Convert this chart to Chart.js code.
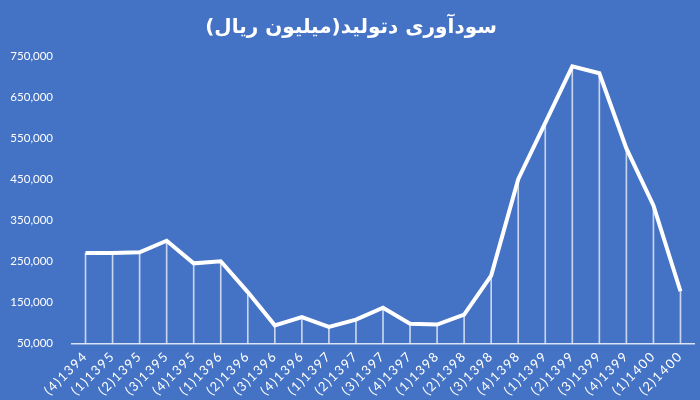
<!DOCTYPE html>
<html>
<head>
<meta charset="utf-8">
<script src="https://cdn.jsdelivr.net/npm/chart.js@4.4.0/dist/chart.umd.min.js"></script>
<style>
  html, body { margin: 0; padding: 0; background: #4472C4; }
  #wrap { width: 700px; height: 400px; }
</style>
</head>
<body>
<div id="wrap"><canvas id="chart"></canvas></div>
<script>
// data
const quarters = [
    '(4)1394',
    '(1)1395', '(2)1395', '(3)1395', '(4)1395',
    '(1)1396', '(2)1396', '(3)1396', '(4)1396',
    '(1)1397', '(2)1397', '(3)1397', '(4)1397',
    '(1)1398', '(2)1398', '(3)1398', '(4)1398',
    '(1)1399', '(2)1399', '(3)1399', '(4)1399',
    '(1)1400', '(2)1400'
]
const profit = [
    270000,
    270000, 272000, 300000, 245000,
    250000, 175000, 94000, 114000,
    90000, 108000, 137000, 98000,
    96000, 120000, 215000, 450000,
    587000, 725000, 708000, 525000,
    386000, 177000
]
const yTicks = [50000, 150000, 250000, 350000, 450000, 550000, 650000, 750000]
const chartTitle = 'سودآوری دتولید(میلیون ریال)'

const white = '#ffffff'
const ctx = document.getElementById('chart').getContext('2d')

// the category labels in the picture are spread out a bit
const spacedLabels = {
    id: 'spacedLabels',
    afterLayout: function (chart) {
        const scale = chart.scales.x
        if (scale._spaced) return
        const orig = scale.drawLabels
        scale.drawLabels = function (area) {
            chart.ctx.save()
            chart.ctx.letterSpacing = '1.5px'
            orig.call(this, area)
            chart.ctx.restore()
        }
        scale._spaced = true
    }
}

new Chart(ctx, {
    data: {
        labels: quarters,
        datasets: [
            {
                // main line
                type: 'line',
                data: profit,
                borderColor: white,
                borderWidth: 4,
                pointRadius: 0,
                tension: 0,
                order: 0
            },
            {
                // thin drop lines down to the axis
                type: 'bar',
                data: profit,
                backgroundColor: 'rgba(255,255,255,0.7)',
                barThickness: 1,
                order: 1
            }
        ]
    },
    options: {
        responsive: true,
        maintainAspectRatio: false,
        animation: false,
        layout: {
            padding: { left: 8, right: 6, top: 0, bottom: 4 }
        },
        plugins: {
            legend: { display: false },
            tooltip: { enabled: false },
            title: {
                display: true,
                text: chartTitle,
                color: white,
                font: { family: 'DejaVu Sans', size: 20, weight: 'bold' },
                padding: { top: 16, bottom: 16 }
            }
        },
        scales: {
            x: {
                offset: true,
                grid: { display: false, drawTicks: false },
                border: { display: true, color: 'rgba(255,255,255,0.8)', width: 1.5 },
                ticks: {
                    color: white,
                    font: { family: 'Lato', size: 13 },
                    minRotation: 45,
                    maxRotation: 45,
                    padding: 5,
                    autoSkip: false
                }
            },
            y: {
                min: 50000,
                max: 750000,
                afterFit: function (scale) { scale.width = 64 },
                afterBuildTicks: function (scale) {
                    scale.ticks = yTicks.map(function (v) { return { value: v } })
                },
                grid: { display: false, drawTicks: false },
                border: { display: false },
                ticks: {
                    color: white,
                    font: { family: 'Lato', size: 11.5 },
                    padding: 19,
                    callback: function (v) { return v.toLocaleString('en-US') }
                }
            }
        }
    },
    plugins: [spacedLabels]
})
</script>
</body>
</html>
